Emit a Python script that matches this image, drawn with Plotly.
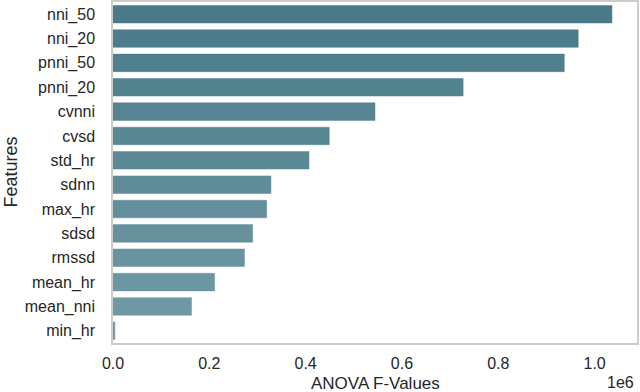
import plotly.graph_objects as go

features = ["nni_50", "nni_20", "pnni_50", "pnni_20", "cvnni", "cvsd", "std_hr",
            "sdnn", "max_hr", "sdsd", "rmssd", "mean_hr", "mean_nni", "min_hr"]
f_values = [1.036e6, 0.966e6, 0.937e6, 0.727e6, 0.544e6, 0.449e6, 0.407e6,
            0.328e6, 0.319e6, 0.290e6, 0.273e6, 0.211e6, 0.163e6, 0.004e6]
tick_vals = [0, 0.2e6, 0.4e6, 0.6e6, 0.8e6, 1.0e6]
tick_text = ["0.0", "0.2", "0.4", "0.6", "0.8", "1.0"]

# colour gradient from dark teal to lighter teal
c0 = (0x4a, 0x7a, 0x88)
c1 = (0x72, 0x9b, 0xa7)
n = len(features)
colors = []
for i in range(n):
    t = i / (n - 1)
    r, g, b = (round(a + (bb - a) * t) for a, bb in zip(c0, c1))
    colors.append(f"rgb({r},{g},{b})")

fig = go.Figure(go.Bar(
    x=f_values, y=features, orientation="h",
    marker=dict(color=colors, line=dict(color=colors, width=0.5)),
    width=0.72,
))

font_family = "Liberation Sans, Arial, sans-serif"
txt = "#262626"
fig.update_layout(
    width=640, height=392,
    margin=dict(l=113, r=3, t=2, b=49),
    paper_bgcolor="white", plot_bgcolor="white",
    font=dict(family=font_family, size=16, color=txt),
    showlegend=False,
)
fig.update_xaxes(
    range=[0, 1.088e6], tickvals=tick_vals, ticktext=tick_text,
    showgrid=False, zeroline=False, automargin=False,
    showline=True, mirror=True, linecolor="#cccccc", linewidth=1.5,
    ticks="outside", ticklen=5, tickcolor="rgba(0,0,0,0)",
    tickfont=dict(size=16, color=txt),
)
fig.update_yaxes(
    categoryorder="array", categoryarray=features, autorange="reversed",
    showgrid=False, zeroline=False, automargin=False,
    showline=True, mirror=True, linecolor="#cccccc", linewidth=1.5,
    ticks="outside", ticklen=13, tickcolor="rgba(0,0,0,0)",
    tickfont=dict(size=16, color=txt),
)
# axis titles and offset text
fig.add_annotation(
    text="ANOVA F-Values", xref="paper", yref="paper", x=0.5, y=0, yshift=-40,
    xanchor="center", yanchor="middle", showarrow=False,
    font=dict(size=17, color=txt),
)
fig.add_annotation(
    text="Features", xref="paper", yref="paper", x=0, y=0.5, xshift=-103,
    xanchor="center", yanchor="middle", textangle=-90, showarrow=False,
    font=dict(size=18, color=txt),
)
fig.add_annotation(
    text="1e6", xref="paper", yref="paper", x=1.0, y=0, yshift=-39, xshift=-1,
    xanchor="right", yanchor="middle", showarrow=False,
    font=dict(size=16, color=txt),
)
fig.write_html("out.html", config={"displayModeBar": False},
               post_script="document.body.style.margin='0';")
